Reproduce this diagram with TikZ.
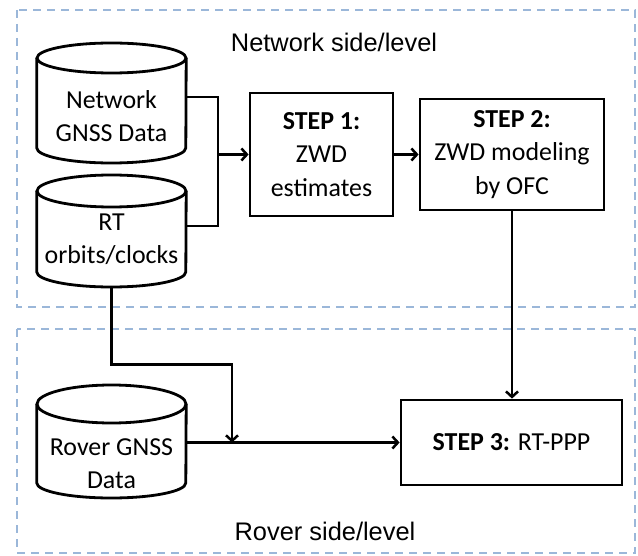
\documentclass[tikz,border=0pt]{standalone}
\usepackage{fontspec}
\setmainfont{Carlito}
\newfontfamily\arialf{Liberation Sans}
\usetikzlibrary{arrows.meta,calc}
\definecolor{zoneblue}{RGB}{155,183,217}
\tikzset{
  conn/.style={line width=2.8bp, black, line join=miter},
  arr/.style={conn, -{Straight Barb[length=5.5bp,width=12bp,line width=2.5bp]}},
  stepbox/.style={draw, line width=2.8bp, align=center, inner sep=0pt,
    font=\fontsize{26}{33.5}\selectfont},
  cylbody/.style={draw=none, align=center, inner sep=0pt, minimum width=149bp,
    font=\fontsize{26}{33}\selectfont},
  cylline/.style={line width=2.8bp, black},
  zone/.style={draw=zoneblue, line width=1.8bp, dash pattern=on 8bp off 6bp},
  lbl/.style={font=\arialf\fontsize{25.5}{30}\selectfont, inner sep=0pt}
}
% #1 node, #2 top cap y-radius, #3 centre-to-top-ellipse distance, #4 centre-to-bottom-ellipse distance
\newcommand\drawcyl[4]{%
  \draw[cylline] ([yshift=#3bp]#1.west) -- ([yshift=-#4bp]#1.west)
    arc[start angle=180, end angle=360, x radius=74.5bp, y radius=15bp]
    -- ([yshift=#3bp]#1.east);
  \draw[cylline] ([yshift=#3bp]#1.center) ellipse[x radius=74.5bp, y radius=#2bp];}
\begin{document}
\begin{tikzpicture}[x=1bp,y=-1bp]
\useasboundingbox (0,0) rectangle (638,556);
% zones
\draw[zone] (17,10) rectangle (635,307);
\draw[zone] (17,329) rectangle (635,553);
\node[lbl] (lt) at (334,42) {Network side/level};
\node[lbl] (lb) at (325,531) {Rover side/level};
% cylinders (node centred on the text)
\node[cylbody] (c1) at (111.5,116) {Network\\GNSS Data};
\node[cylbody] (c2) at (111.5,239.5) {RT\\orbits/clocks};
\node[cylbody] (c3) at (111.5,463.5) {Rover GNSS\\Data};
\drawcyl{c1}{15}{58}{32}
\drawcyl{c2}{16}{48.5}{32.5}
\drawcyl{c3}{19}{59.5}{19.5}
% steps
\node[stepbox, minimum width=143bp, minimum height=123bp] (s1) at (321.5,154.5) {\textbf{STEP 1:}\\ZWD\\estimates};
\node[stepbox, minimum width=184bp, minimum height=111bp] (s2) at (512,154.5) {\textbf{STEP 2:}\\ZWD modeling\\by OFC};
\node[stepbox, minimum width=221bp, minimum height=85bp] (s3) at (511.5,442.5) {\textbf{STEP 3:} RT-PPP};
% junctions
\coordinate (j1) at (218,154.5);
\coordinate (j2) at (232,442.5);
% connectors
\draw[conn] ([yshift=19bp]c1.east) -| (j1) |- ([yshift=13.5bp]c2.east);
\draw[arr] (j1) -- (s1.west);
\draw[arr] (s1.east) -- (s2.west);
\draw[arr] (s2.south) -- (s2.south |- s3.north);
\draw[arr] (c3.east |- s3.west) -- (s3.west);
\draw[arr] ([yshift=-47.5bp]c2.center) |- ($(j2)+(0,-78)$) -- (j2);
\end{tikzpicture}
\end{document}
